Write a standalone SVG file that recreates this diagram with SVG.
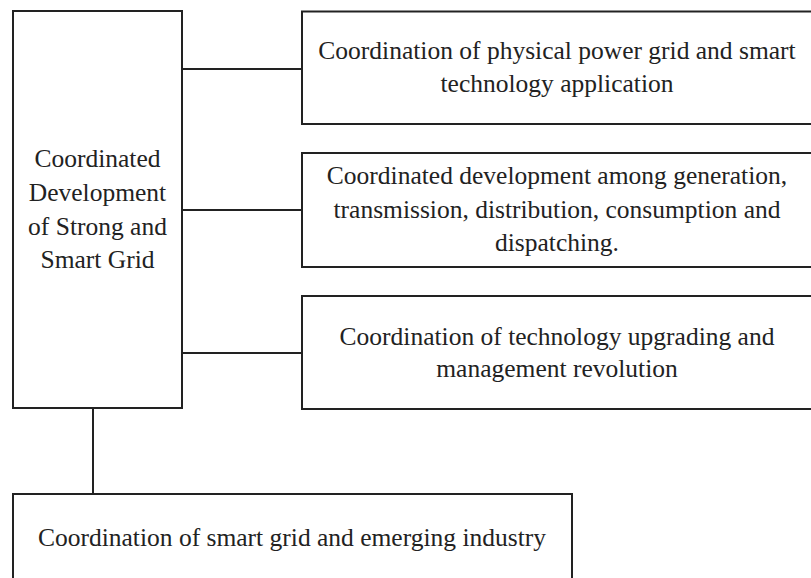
<svg xmlns="http://www.w3.org/2000/svg" width="811" height="578" viewBox="0 0 811 578">
<style>
.box{fill:#fff;stroke:#222;stroke-width:2}
.ln{stroke:#222;stroke-width:2;fill:none}
text{font-family:"Liberation Serif","Times New Roman",serif;font-size:25.5px;fill:#222;text-anchor:middle}
</style>
<rect width="811" height="578" fill="#fff"/>
<g id="connectors">
<line class="ln" x1="182" y1="69" x2="302" y2="69"/>
<line class="ln" x1="182" y1="210" x2="302" y2="210"/>
<line class="ln" x1="182" y1="353" x2="302" y2="353"/>
<line class="ln" x1="93" y1="408" x2="93" y2="494"/>
</g>
<g id="main">
<rect class="box" x="13" y="11" width="169" height="397"/>
<text x="97.5" y="167">Coordinated</text>
<text x="97.5" y="201">Development</text>
<text x="97.5" y="235">of Strong and</text>
<text x="97.5" y="268">Smart Grid</text>
</g>
<g id="n1">
<rect class="box" x="302" y="11.5" width="520" height="112.5"/>
<text x="557" y="59">Coordination of physical power grid and smart</text>
<text x="557" y="92">technology application</text>
</g>
<g id="n2">
<rect class="box" x="302" y="153" width="520" height="114"/>
<text x="557" y="184">Coordinated development among generation,</text>
<text x="557" y="218">transmission, distribution, consumption and</text>
<text x="557" y="251">dispatching.</text>
</g>
<g id="n3">
<rect class="box" x="302" y="296" width="520" height="113"/>
<text x="557" y="345">Coordination of technology upgrading and</text>
<text x="557" y="377">management revolution</text>
</g>
<g id="n4">
<rect class="box" x="13" y="494" width="559" height="100"/>
<text x="292" y="546">Coordination of smart grid and emerging industry</text>
</g>
</svg>
